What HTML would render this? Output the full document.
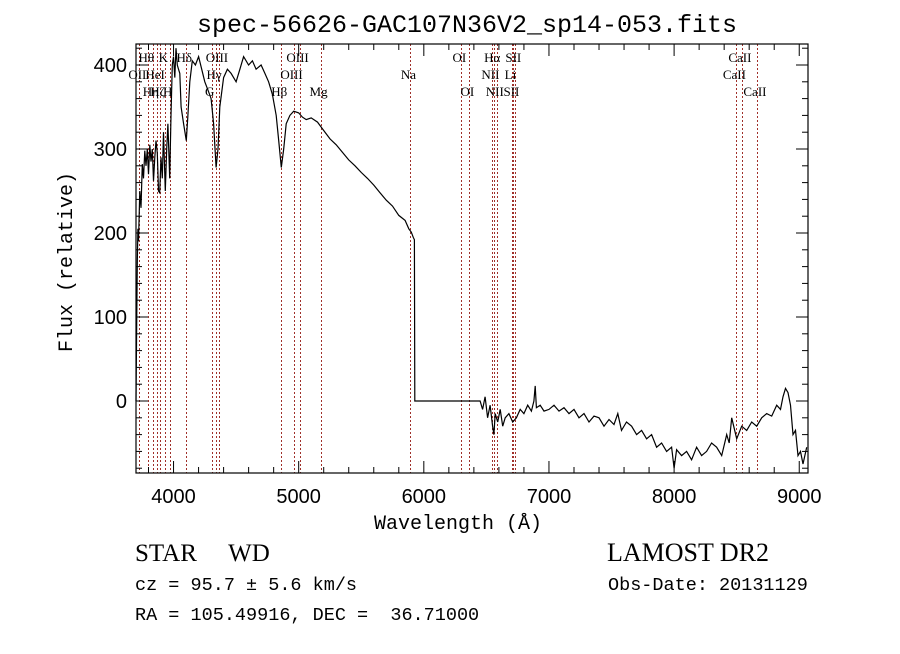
<!DOCTYPE html>
<html><head><meta charset="utf-8">
<style>
html,body{margin:0;padding:0;background:#fff;}
body{width:900px;height:649px;overflow:hidden;}
svg text{font-family:"Liberation Serif","DejaVu Serif",serif;fill:#000;}
</style></head>
<body>
<svg width="900" height="649" viewBox="0 0 900 649" xmlns="http://www.w3.org/2000/svg">
<rect width="900" height="649" fill="#fff"/>
<text x="467" y="32" text-anchor="middle" font-size="25" style="font-family:'Liberation Mono',monospace">spec-56626-GAC107N36V2_sp14-053.fits</text>
<g id="lines"></g>
<g id="labels"></g>
<path id="spec" fill="none" stroke="#000" stroke-width="1.2"/>
<g id="axes"></g>
<rect x="136" y="44" width="672" height="429" fill="none" stroke="#000" stroke-width="1.2"/>
<text x="458" y="529" text-anchor="middle" font-size="20" style="font-family:'Liberation Mono',monospace">Wavelength (Å)</text>
<text transform="translate(72,262) rotate(-90)" text-anchor="middle" font-size="20" style="font-family:'Liberation Mono',monospace">Flux (relative)</text>
<text x="135" y="561" font-size="25">STAR&#160;&#160;&#160;&#160;&#160;WD</text>
<text x="607" y="561" font-size="26">LAMOST DR2</text>
<text x="135" y="590" font-size="18.5" style="font-family:'Liberation Mono',monospace">cz = 95.7 ± 5.6 km/s</text>
<text x="608" y="590" font-size="18.5" style="font-family:'Liberation Mono',monospace">Obs-Date: 20131129</text>
<text x="135" y="620" font-size="18.5" style="font-family:'Liberation Mono',monospace">RA = 105.49916, DEC = &#160;36.71000</text>
</svg>
<script>
const wave=[3700,3705,3710,3715,3720,3730,3740,3750,3760,3770,3780,3790,3800,3810,3820,3830,3840,3850,3860,3870,3880,3889,3900,3910,3920,3934,3945,3955,3969,3980,3990,4000,4010,4020,4030,4040,4050,4060,4080,4102,4115,4130,4150,4175,4200,4225,4250,4275,4300,4320,4340,4355,4370,4400,4430,4460,4500,4530,4560,4600,4630,4660,4700,4730,4760,4790,4820,4840,4861,4880,4900,4930,4960,5000,5030,5060,5100,5150,5200,5250,5300,5350,5400,5450,5500,5550,5600,5650,5700,5750,5800,5850,5880,5900,5915,5925,5928,6000,6100,6200,6300,6400,6450,6470,6490,6510,6530,6550,6560,6570,6590,6610,6630,6650,6680,6710,6740,6770,6800,6830,6860,6880,6890,6900,6930,6960,7000,7040,7080,7120,7160,7200,7240,7280,7320,7360,7400,7440,7480,7520,7550,7580,7620,7660,7700,7740,7780,7820,7860,7900,7940,7980,8000,8020,8060,8100,8140,8180,8220,8260,8300,8340,8380,8420,8440,8460,8500,8540,8580,8620,8660,8700,8740,8780,8820,8850,8870,8890,8910,8930,8950,8970,8990,9010,9030,9060];
const flux=[0,80,165,205,190,250,230,282,265,298,280,300,270,305,285,300,262,290,310,295,250,248,290,265,320,250,300,330,265,340,400,410,385,420,400,395,390,350,330,310,340,380,405,400,410,395,380,370,360,330,278,300,350,385,395,390,380,395,410,400,405,395,400,390,380,365,340,310,278,300,330,340,345,343,338,335,337,332,322,312,305,296,287,280,272,265,257,248,239,232,221,215,205,201,195,192,0,0,0,0,0,0,0,-10,5,-20,-5,-30,-40,-15,-25,-10,-30,-20,-15,-25,-20,-10,-15,-5,-12,0,18,-8,-5,-12,-10,-5,-12,-8,-15,-10,-20,-15,-25,-18,-20,-30,-22,-28,-15,-35,-25,-30,-40,-35,-45,-40,-55,-50,-60,-55,-80,-58,-65,-60,-70,-55,-65,-60,-50,-55,-65,-40,-50,-20,-45,-30,-35,-25,-30,-20,-15,-18,-5,-10,5,15,10,-5,-40,-35,-65,-60,-75,-55,0,0];
const yTicks=[0,100,200,300,400];
const xTicks=[4000,5000,6000,7000,8000,9000];
const lineWaves=[3727,3798,3835,3869,3889,3934,3969,4102,4305,4340,4363,4861,4959,5007,5175,5893,6300,6364,6548,6563,6583,6708,6716,6731,8498,8542,8662];
const labelTexts=["OII","Hθ","Hη","HeI","Hζ","K","H","Hδ","G","Hγ","OIII","Hβ","OIII","OIII","Mg","Na","OI","OI","NII","Hα","NII","Li","SII","SII","CaII","CaII","CaII"];
const labelRows=[1,0,2,1,2,0,2,0,2,1,0,2,1,0,2,1,0,2,1,0,2,1,2,0,1,0,2];

const X0=136,X1=808,Y0=44,Y1=473,WMIN=3700,WMAX=9070,FMIN=-85.7,FMAX=425;
const sx=w=>X0+(w-WMIN)/(WMAX-WMIN)*(X1-X0);
const sy=f=>Y1-(f-FMIN)/(FMAX-FMIN)*(Y1-Y0);
const NS="http://www.w3.org/2000/svg";
function mk(tag,attrs,parent){const e=document.createElementNS(NS,tag);for(const k in attrs)e.setAttribute(k,attrs[k]);parent.appendChild(e);return e;}

let d="";
for(let i=0;i<wave.length;i++){const x=Math.min(Math.max(sx(wave[i]),X0),X1),y=Math.min(Math.max(sy(flux[i]),Y0),Y1);d+=(i?"L":"M")+x.toFixed(1)+","+y.toFixed(1);}
document.getElementById('spec').setAttribute('d',d);

const lg=document.getElementById('lines'),lb=document.getElementById('labels');
lineWaves.forEach((w,i)=>{
  const px=Math.round(sx(w))+0.5;
  const l=mk('line',{x1:px,x2:px,y1:Y0,y2:Y1,stroke:'#a0302a','stroke-width':1,'stroke-dasharray':'2,2'},lg);
  
  
  const t=mk('text',{x:sx(w)-2,y:62+labelRows[i]*17,'text-anchor':'middle','font-size':13},lb);
  t.textContent=labelTexts[i];
  
  
});

const ax=document.getElementById('axes');
for(let w=3800;w<=9000;w+=200){
  const major=w%1000===0;const len=major?12:6;
  mk('line',{x1:sx(w),x2:sx(w),y1:Y1,y2:Y1-len,stroke:'#000'},ax);
  mk('line',{x1:sx(w),x2:sx(w),y1:Y0,y2:Y0+len,stroke:'#000'},ax);
}
xTicks.forEach(w=>{
  const t=mk('text',{x:sx(w),y:Y1+30,'text-anchor':'middle','font-size':20,style:"font-family:'Liberation Sans',sans-serif"},ax);
  t.textContent=w;
  
  
});
for(let f=-80;f<=420;f+=20){
  const major=f%100===0;const len=major?12:6;
  mk('line',{x1:X0,x2:X0+len,y1:sy(f),y2:sy(f),stroke:'#000'},ax);
  mk('line',{x1:X1,x2:X1-len,y1:sy(f),y2:sy(f),stroke:'#000'},ax);
}
yTicks.forEach(f=>{
  const t=mk('text',{x:127,y:sy(f)+7,'text-anchor':'end','font-size':20,style:"font-family:'Liberation Sans',sans-serif"},ax);
  t.textContent=f;
  
  
});
</script>
</body></html>
